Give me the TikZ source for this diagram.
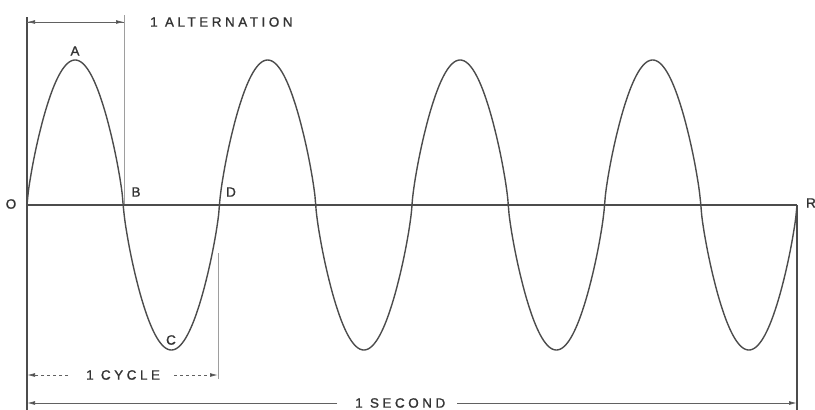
\documentclass[tikz,border=0pt]{standalone}
\usepackage{fontspec}
\setmainfont{Liberation Sans}
\newfontfamily\lbl[LetterSpace=26,FakeBold=1.2]{Liberation Sans}
\newfontfamily\lblletter[FakeBold=1.2]{Liberation Sans}
\usetikzlibrary{arrows.meta}
\begin{document}
\begin{tikzpicture}[x=1pt,y=-1pt,
  ink/.style={draw=black!70},
  wave/.style={ink, line width=1.4pt, line join=round},
  axisline/.style={ink, line width=1.9pt},
  frame/.style={ink, line width=1.3pt},
  guide/.style={draw=black!38, line width=0.9pt},
  dim/.style={draw=black!62, line width=0.9pt},
  tip/.style={-{Latex[length=8pt,width=4pt,fill=black!80]}},
  txt/.style={inner sep=0pt, text=black!80, font=\lbl\fontsize{13.5}{15}\selectfont},
  letter/.style={inner sep=0pt, text=black!80, font=\lblletter\fontsize{13.5}{15}\selectfont}]
\useasboundingbox (0,0) rectangle (815,410);
\fill[white] (0,0) rectangle (815,410);
% key points
\coordinate (O) at (27,205);
\coordinate (R) at (797,205);
\coordinate (Ltop) at (27,17);
\coordinate (Lbot) at (27,410);
\coordinate (Atop) at (124,15);
\coordinate (Abot) at (124,205);
\coordinate (Dtop) at (218,253);
\coordinate (Dbot) at (218,379);
\coordinate (Rbot) at (797,410);
% dimension end points
\coordinate (alt1) at (27,22);
\coordinate (alt2) at (124,22);
\coordinate (cyc1) at (27,375);
\coordinate (cyc2) at (218,375);
\coordinate (sec1) at (27,403);
\coordinate (sec2) at (797,403);
% frame lines
\draw[frame] (Ltop) -- (Lbot);
\draw[guide] (Atop) -- (Abot);
\draw[guide] (Dtop) -- (Dbot);
\draw[frame] (R) -- (Rbot);
% axis and wave
\draw[axisline] (O) -- (R);
\draw[wave] plot[domain=0:1440, samples=600, smooth]
  ({27+\x/360*192.5}, {205-145*sin(\x)*pow(abs(sin(\x))+0.0001,-0.24)});
% labels
\node[letter] (lO) at (11,204) {O};
\node[letter] (lA) at (75,51) {A};
\node[letter] (lB) at (136,192) {B};
\node[letter] (lD) at (231,192) {D};
\node[letter] (lC) at (171,340) {C};
\node[letter] (lR) at (811,203) {R};
% 1 alternation
\draw[dim, tip] (alt2) -- (alt1);
\draw[dim, tip] (alt1) -- (alt2);
\node[txt, anchor=west] (talt) at (150,22) {1 ALTERNATION};
% 1 cycle
\node[txt, anchor=west] (tcyc) at (86,375) {1 CYCLE};
\draw[dim, tip, dashed] ([xshift=-18pt]tcyc.west) -- (cyc1);
\draw[dim, tip, dashed] ([xshift=14pt]tcyc.east) -- (cyc2);
% 1 second
\node[txt, anchor=west] (tsec) at (355,403) {1 SECOND};
\draw[dim, tip] ([xshift=-18pt]tsec.west) -- (sec1);
\draw[dim, tip] ([xshift=12pt]tsec.east) -- (sec2);
\end{tikzpicture}
\end{document}
